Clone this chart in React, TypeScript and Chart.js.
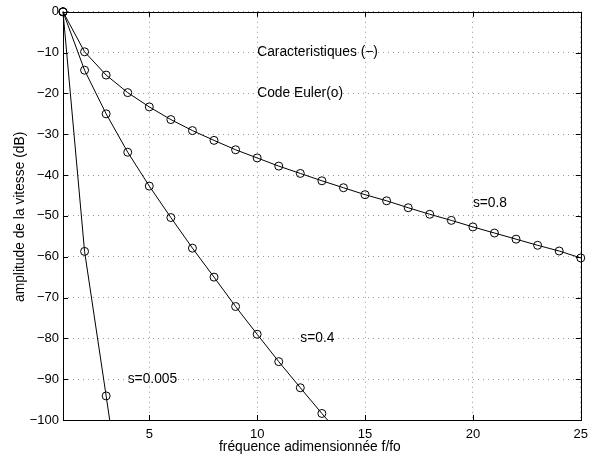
import React, { useEffect, useRef } from "react";
import { Chart, registerables } from "chart.js";

Chart.register(...registerables);

const xValues = [1, 2, 3, 4, 5, 6, 7, 8, 9, 10, 11, 12, 13, 14, 15, 16, 17, 18, 19, 20, 21, 22, 23, 24, 25];
const s08 = [0, -9.8, -15.5, -19.8, -23.3, -26.4, -29.1, -31.5, -33.8, -35.8, -37.8, -39.6, -41.4, -43.1, -44.8, -46.3, -48.0, -49.6, -51.1, -52.7, -54.2, -55.7, -57.2, -58.6, -60.3];
const s04 = [0, -14.3, -25.0, -34.4, -42.7, -50.4, -57.9, -65.0, -72.2, -79.0, -85.7, -92.1, -98.4, -104.5];
const s0005 = [0, -58.7, -94.1, -130];

const xTicks = [5, 10, 15, 20, 25];
const yTicks = [-100, -90, -80, -70, -60, -50, -40, -30, -20, -10, 0];

const annotationTexts = ["Caracteristiques (\u2212)", "Code Euler(o)", "s=0.8", "s=0.4", "s=0.005"];
const annotationX = [10, 10, 20, 12, 4];
const annotationY = [-10, -20, -47, -80, -90];

const xLabel = "fr\u00e9quence adimensionn\u00e9e f/fo";
const yLabel = "amplitude de la vitesse (dB)";

const FAMILY = "'Liberation Sans', Arial, Helvetica, sans-serif";
const FONT = "13.8px " + FAMILY;

function toPoints(vals: number[]) {
  return vals.map((v, i) => ({ x: xValues[i], y: v }));
}

const decorPlugin = {
  id: "decor",
  afterDraw(chart: any) {
    const { ctx, chartArea } = chart;
    const xs = chart.scales.x;
    const ys = chart.scales.y;
    const { left, right, top, bottom } = chartArea;
    ctx.save();
    ctx.strokeStyle = "#000";
    ctx.lineWidth = 1;
    ctx.beginPath();
    xTicks.forEach((t) => {
      const px = Math.round(xs.getPixelForValue(t)) + 0.5;
      ctx.moveTo(px, bottom);
      ctx.lineTo(px, bottom - 5);
      ctx.moveTo(px, top);
      ctx.lineTo(px, top + 5);
    });
    yTicks.forEach((t) => {
      const py = Math.round(ys.getPixelForValue(t)) + 0.5;
      ctx.moveTo(left, py);
      ctx.lineTo(left + 5, py);
      ctx.moveTo(right, py);
      ctx.lineTo(right - 5, py);
    });
    ctx.stroke();
    ctx.strokeRect(Math.round(left) + 0.5, Math.round(top) + 0.5, Math.round(right - left), Math.round(bottom - top));
    ctx.fillStyle = "#000";
    ctx.font = FONT;
    ctx.textAlign = "left";
    ctx.textBaseline = "middle";
    annotationTexts.forEach((t, i) => {
      ctx.fillText(t, xs.getPixelForValue(annotationX[i]), ys.getPixelForValue(annotationY[i]));
    });
    ctx.textAlign = "center";
    ctx.textBaseline = "alphabetic";
    ctx.fillText(xLabel, (left + right) / 2 - 12, 451);
    ctx.save();
    ctx.translate(24, (top + bottom) / 2 + 1);
    ctx.rotate(-Math.PI / 2);
    ctx.fillText(yLabel, 0, 0);
    ctx.restore();
    ctx.restore();
  },
};

export default function App() {
  const ref = useRef<HTMLCanvasElement | null>(null);
  useEffect(() => {
    if (!ref.current) return;
    const mk = (vals: number[]) => ({
      data: toPoints(vals),
      borderColor: "#000",
      borderWidth: 1,
      pointRadius: 4,
      pointBorderWidth: 1,
      pointBorderColor: "#000",
      pointBackgroundColor: "rgba(0,0,0,0)",
      fill: false,
      tension: 0,
      clip: { left: 6, top: 6, right: 6, bottom: 0 },
    });
    const chart = new Chart(ref.current, {
      type: "line",
      data: {
        datasets: [mk(s08), mk(s04), mk(s0005)] as any,
      },
      options: {
        animation: false,
        responsive: false,
        events: [],
        layout: { padding: { left: 0, top: 11, right: 11, bottom: 0 } },
        plugins: { legend: { display: false }, tooltip: { enabled: false } },
        scales: {
          x: {
            type: "linear",
            min: 1,
            max: 25,
            afterBuildTicks: (s: any) => {
              s.ticks = xTicks.map((v) => ({ value: v }));
            },
            afterFit: (s: any) => {
              s.height = 40;
            },
            grid: { color: "#999", drawTicks: false, lineWidth: 1 },
            border: { display: false, dash: [1, 4] },
            ticks: {
              color: "#000",
              font: { family: FAMILY, size: 13 },
              padding: 7,
              maxRotation: 0,
              autoSkip: false,
            },
          },
          y: {
            type: "linear",
            min: -100,
            max: 0,
            afterBuildTicks: (s: any) => {
              s.ticks = yTicks.map((v) => ({ value: v }));
            },
            afterFit: (s: any) => {
              s.width = 63;
            },
            grid: { color: "#999", drawTicks: false, lineWidth: 1 },
            border: { display: false, dash: [1, 4] },
            ticks: {
              color: "#000",
              font: { family: FAMILY, size: 13 },
              padding: 4,
              autoSkip: false,
              callback: (v: any) => (Number(v) < 0 ? "\u2212" + Math.abs(Number(v)) : String(v)),
            },
          },
        },
      },
      plugins: [decorPlugin],
    });
    return () => chart.destroy();
  }, []);
  return (
    <div style={{ position: "fixed", left: 0, top: 0, width: 595, height: 460, background: "#fff" }}>
      <canvas ref={ref} width={595} height={460} />
    </div>
  );
}
